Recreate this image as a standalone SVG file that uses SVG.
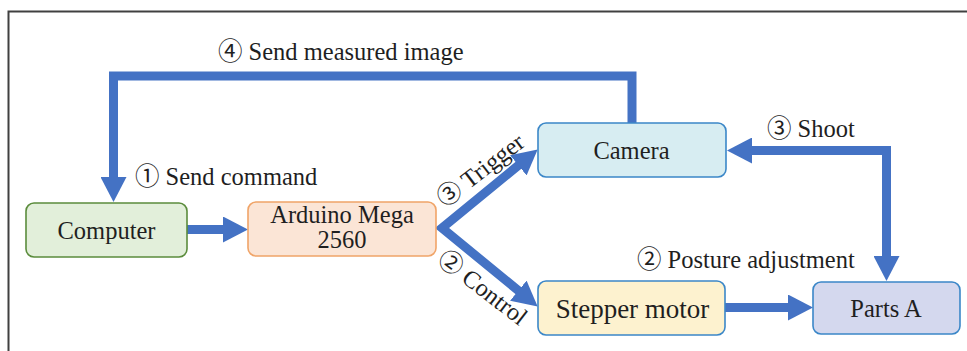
<svg xmlns="http://www.w3.org/2000/svg" width="967" height="351" viewBox="0 0 967 351">
  <defs>
    <style>
      .box { stroke-width: 1.6; }
      .t { font-family: "Liberation Serif", "Noto Sans CJK SC", serif; fill: #1f1f1f; }
      .node { font-size: 24.5px; text-anchor: middle; }
      .lbl { font-size: 24.5px; }
      .wire { fill: none; stroke: #4472c4; stroke-width: 9; stroke-linejoin: miter; }
      .arrow { marker-end: url(#head); }
    </style>
    <marker id="head" markerUnits="userSpaceOnUse" markerWidth="25" markerHeight="26" refX="5" refY="13" orient="auto-start-reverse" viewBox="0 0 25 26">
      <path d="M0,0 L25,13 L0,26 Z" fill="#4472c4"/>
    </marker>
  </defs>

  <rect width="967" height="351" fill="#ffffff"/>
  <!-- outer frame -->
  <path d="M8.5,351 V11.5 H967" fill="none" stroke="#404040" stroke-width="2"/>

  <!-- connectors -->
  <g id="connectors">
    <path class="wire arrow" d="M632,123 V76 H113.5 V182"/>
    <path class="wire arrow" d="M187,229.5 H228"/>
    <path class="wire arrow" d="M522.2,162.2 L442,228 L522.2,293.8" marker-start="url(#head)"/>
    <path class="wire arrow" d="M725,307.5 H793"/>
    <path class="wire arrow" d="M891,150.5 H747"/>
    <path class="wire arrow" d="M886.5,146 V261"/>
  </g>

  <!-- connector labels -->
  <g id="labels" class="t lbl">
    <text x="218" y="60">④ Send measured image</text>
    <text x="135" y="185">① Send command</text>
    <text x="767" y="137">③ Shoot</text>
    <text x="637" y="268">② Posture adjustment</text>
    <text transform="translate(445,208) rotate(-37.7)">③ Trigger</text>
    <text transform="translate(436,262) rotate(37.7)">② Control</text>
  </g>

  <g id="computer">
    <rect class="box" x="26" y="203" width="161" height="54" rx="8" fill="#e2efda" stroke="#5b8c3c"/>
    <text class="t node" x="106.5" y="238.5">Computer</text>
  </g>

  <g id="arduino">
    <rect class="box" x="248" y="202" width="188" height="54" rx="8" fill="#fbe5d6" stroke="#f0a468"/>
    <text class="t node" x="342" y="222.5">Arduino Mega</text>
    <text class="t node" x="342" y="247.5">2560</text>
  </g>

  <g id="camera">
    <rect class="box" x="538" y="123" width="188" height="54" rx="8" fill="#d7edf2" stroke="#3b87c8"/>
    <text class="t node" x="631.5" y="158.5">Camera</text>
  </g>

  <g id="stepper">
    <rect class="box" x="538" y="281" width="187" height="54" rx="8" fill="#fdf2cf" stroke="#3b87c8"/>
    <text class="t node" x="632.5" y="317.5" style="font-size:27px">Stepper motor</text>
  </g>

  <g id="parts-a">
    <rect class="box" x="813" y="282" width="147" height="52" rx="8" fill="#d4d8ee" stroke="#3b87c8"/>
    <text class="t node" x="886" y="316.5">Parts A</text>
  </g>
</svg>
